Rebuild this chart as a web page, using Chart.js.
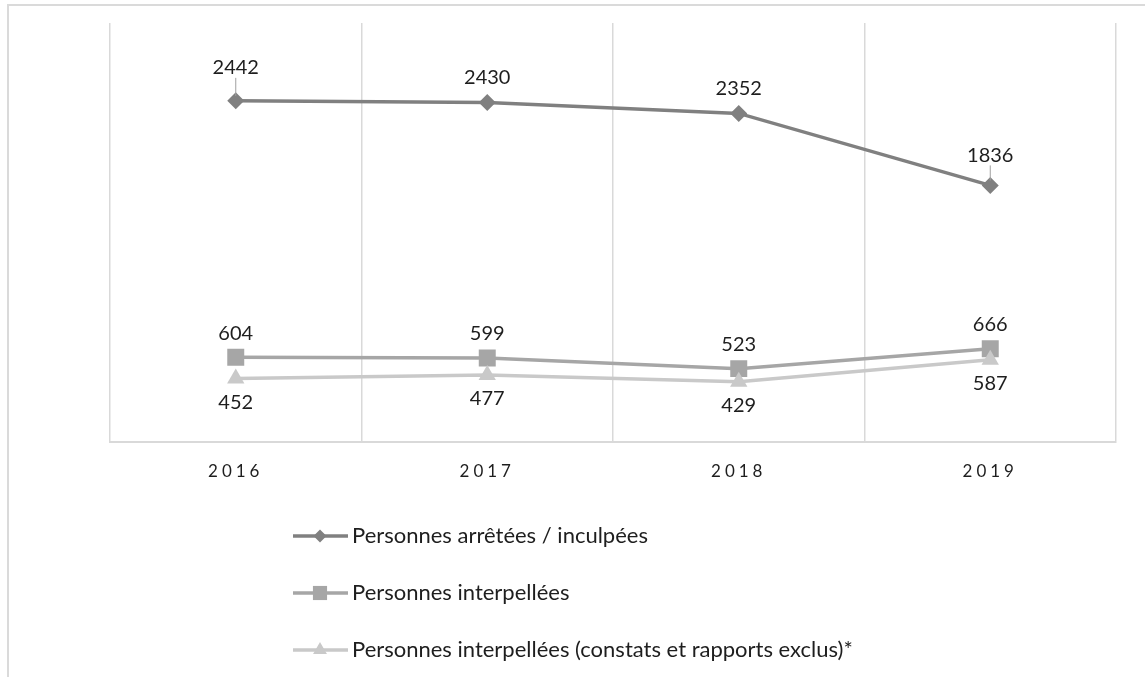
<!DOCTYPE html>
<html><head><meta charset="utf-8">
<script src="https://cdn.jsdelivr.net/npm/chart.js@4/dist/chart.umd.min.js"></script>
<style>
html,body{margin:0;padding:0;background:#fff;overflow:hidden;width:1145px;height:677px}
#frame{position:absolute;left:7px;top:4px;width:1400px;height:1000px;border:2px solid #dadada;box-sizing:border-box}
#wrap{position:absolute;left:0;top:0;width:1145px;height:677px}
</style></head><body>
<div id="frame"></div>
<div id="wrap"><canvas id="c" width="1145" height="677"></canvas></div>
<script>
// ---- data ----
const categories = ['2016', '2017', '2018', '2019'];
const arretees = [2442, 2430, 2352, 1836];
const interpellees = [604, 599, 523, 666];
const interpelleesHorsConstats = [452, 477, 429, 587];
const seriesNames = [
  'Personnes arrêtées / inculpées',
  'Personnes interpellées',
  'Personnes interpellées (constats et rapports exclus)*'
];
const yMin = 0, yMax = 3000;

const FONT = 'Lato, "Open Sans", sans-serif';
const TEXT = '#1e1e1e';

const datasets = [
  { label: seriesNames[0], data: arretees, color: '#808080', style: 'rectRot', radius: 8.5, lgRadius: 6.5, labelDy: -25, lift: [8, 0, 0, 5], order: 2 },
  { label: seriesNames[1], data: interpellees, color: '#a6a6a6', style: 'rect', radius: 12, lgRadius: 10, labelDy: -24, lift: [0, 0, 0, 0], order: 1 },
  { label: seriesNames[2], data: interpelleesHorsConstats, color: '#c9c9c9', style: 'triangle', radius: 10, lgRadius: 8, labelDy: 24, lift: [0, 0, 0, 0], order: 0 }
].map(d => ({
  label: d.label, data: d.data, order: d.order,
  borderColor: d.color, backgroundColor: d.color,
  pointBackgroundColor: d.color, pointBorderColor: d.color, pointBorderWidth: 0,
  pointStyle: d.style, pointRadius: d.radius, pointHoverRadius: d.radius,
  borderWidth: 3.5, tension: 0, fill: false,
  _labelDy: d.labelDy, _lift: d.lift, _lgRadius: d.lgRadius
}));

const spacingPlugin = {
  id: 'spacing',
  beforeDraw(chart) { chart.ctx.letterSpacing = '4px'; },
  beforeDatasetsDraw(chart) { chart.ctx.letterSpacing = '0px'; }
};

const valueLabels = {
  id: 'valueLabels',
  afterDatasetsDraw(chart) {
    const ctx = chart.ctx;
    ctx.save();
    ctx.letterSpacing = '0px';
    ctx.font = '20px ' + FONT;
    ctx.fillStyle = TEXT;
    ctx.textAlign = 'center';
    ctx.textBaseline = 'middle';
    chart.data.datasets.forEach((ds, i) => {
      const meta = chart.getDatasetMeta(i);
      meta.data.forEach((pt, j) => {
        const lift = ds._lift[j] || 0;
        const dy = ds._labelDy - (ds._labelDy < 0 ? lift : -lift);
        ctx.fillText(String(ds.data[j]), pt.x, pt.y + dy);
        if (lift > 0) {
          ctx.strokeStyle = '#a0a0a0';
          ctx.lineWidth = 1;
          ctx.beginPath();
          ctx.moveTo(pt.x, pt.y + dy + 10);
          ctx.lineTo(pt.x, pt.y - 5);
          ctx.stroke();
        }
      });
    });
    ctx.restore();
  }
};

const customLegend = {
  id: 'customLegend',
  afterDraw(chart) {
    const ctx = chart.ctx;
    ctx.save();
    ctx.letterSpacing = '0px';
    const x0 = 293, x1 = 348, xm = 320, tx = 352, y0 = 536, step = 57;
    chart.data.datasets.forEach((ds, i) => {
      const y = y0 + i * step;
      ctx.strokeStyle = ds.borderColor;
      ctx.lineWidth = 3.5;
      ctx.beginPath(); ctx.moveTo(x0, y); ctx.lineTo(x1, y); ctx.stroke();
      ctx.fillStyle = ds.pointBackgroundColor;
      ctx.strokeStyle = ds.pointBorderColor;
      Chart.helpers.drawPoint(ctx, { pointStyle: ds.pointStyle, radius: ds._lgRadius, rotation: 0, borderWidth: 0 }, xm, y);
      ctx.fillStyle = TEXT;
      ctx.font = '22px ' + FONT;
      ctx.textAlign = 'left';
      ctx.textBaseline = 'middle';
      ctx.fillText(ds.label, tx, y);
    });
    ctx.restore();
  }
};

new Chart(document.getElementById('c'), {
  type: 'line',
  data: { labels: categories, datasets },
  options: {
    responsive: false,
    animation: false,
    devicePixelRatio: 1,
    layout: { padding: { left: 110, right: 29, top: 23, bottom: 175 } },
    plugins: { legend: { display: false }, tooltip: { enabled: false } },
    scales: {
      x: {
        type: 'category',
        offset: true,
        grid: { offset: true, color: '#d9d9d9', lineWidth: 1.5, drawTicks: false },
        border: { display: true, color: '#d9d9d9', width: 2 },
        ticks: { font: { family: FONT, size: 17 }, color: TEXT, padding: 20 }
      },
      y: { display: false, min: yMin, max: yMax }
    }
  },
  plugins: [spacingPlugin, valueLabels, customLegend]
});
</script>
</body></html>
